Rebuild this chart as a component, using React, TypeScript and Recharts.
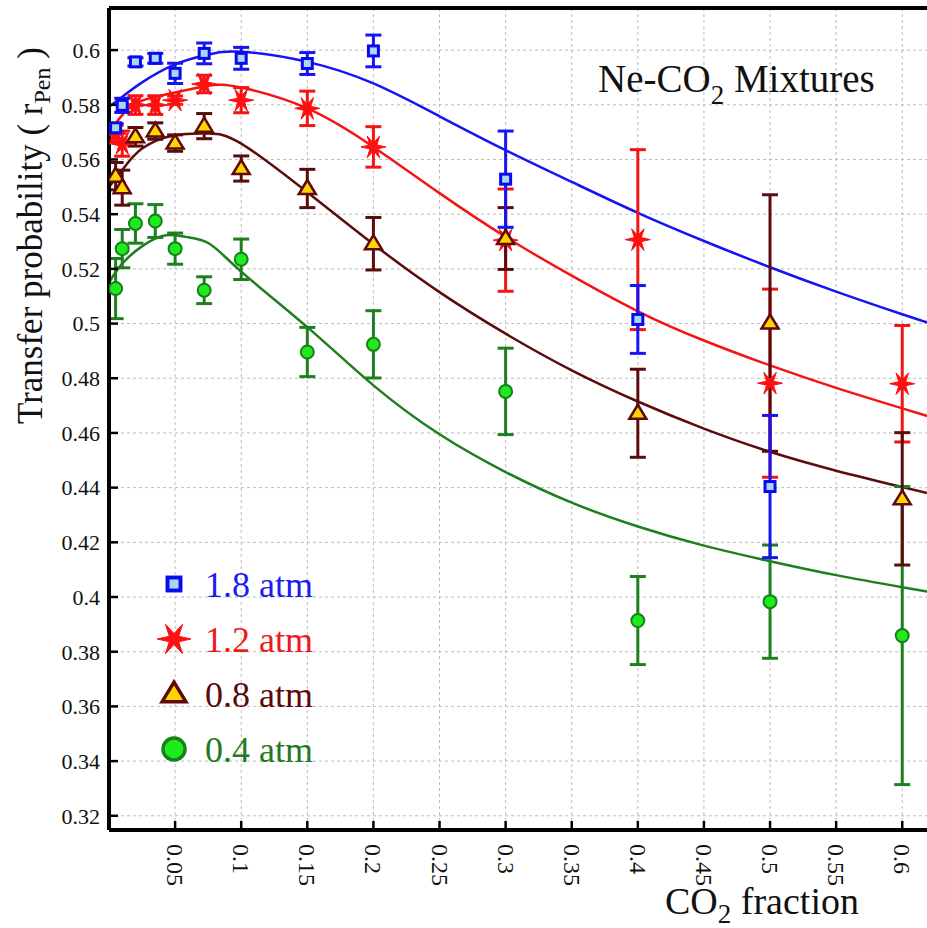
import React from 'react';
import { ComposedChart, Scatter, Line, XAxis, YAxis, CartesianGrid, ErrorBar } from 'recharts';

// ---------- data ----------
const xPoints = [0.005, 0.01, 0.02, 0.035, 0.05, 0.072, 0.1, 0.15, 0.2, 0.3, 0.4, 0.5, 0.6];

const y18 = [0.5716, 0.5798, 0.5957, 0.597, 0.5915, 0.5988, 0.597, 0.5951, 0.5997, 0.5528, 0.5015, 0.4404];
const e18 = [0.0015, 0.0026, 0.0015, 0.0018, 0.0037, 0.0038, 0.004, 0.004, 0.0058, 0.0176, 0.0124, 0.026];

const y12 = [0.5695, 0.5658, 0.5799, 0.5799, 0.5817, 0.5876, 0.5817, 0.5787, 0.5646, 0.5305, 0.5307, 0.4782, 0.478];
const e12 = [0.003, 0.0046, 0.0034, 0.0034, 0.0015, 0.0032, 0.0046, 0.0063, 0.0074, 0.0187, 0.0329, 0.0344, 0.0213];

const y08 = [0.5539, 0.5497, 0.5683, 0.5704, 0.566, 0.5722, 0.5567, 0.5494, 0.5292, 0.5311, 0.4672, 0.5002, 0.4359];
const e08 = [0.005, 0.0064, 0.0034, 0.003, 0.003, 0.0046, 0.0046, 0.007, 0.0096, 0.0113, 0.0161, 0.0469, 0.0242];

const y04 = [0.5128, 0.5274, 0.5366, 0.5375, 0.5274, 0.5122, 0.5235, 0.4896, 0.4924, 0.4752, 0.3914, 0.3983, 0.3859];
const e04 = [0.011, 0.007, 0.0072, 0.006, 0.0057, 0.0049, 0.0074, 0.009, 0.0123, 0.0158, 0.0161, 0.0207, 0.0545];

// fitted curves
const fit18X = [0, 0.01, 0.025, 0.05, 0.075, 0.1, 0.15, 0.2, 0.25, 0.3, 0.35, 0.4, 0.45, 0.5, 0.55, 0.6, 0.619];
const fit18Y = [0.5793, 0.5829, 0.5882, 0.5948, 0.5984, 0.5994, 0.5957, 0.5878, 0.5758, 0.5634, 0.5518, 0.5405, 0.5302, 0.5206, 0.5117, 0.5034, 0.5004];

const fit12X = [0, 0.01, 0.025, 0.05, 0.075, 0.1, 0.15, 0.2, 0.25, 0.3, 0.35, 0.4, 0.45, 0.5, 0.55, 0.6, 0.619];
const fit12Y = [0.5696, 0.5762, 0.5815, 0.5845, 0.587, 0.5863, 0.5787, 0.5646, 0.5477, 0.5317, 0.5175, 0.5045, 0.4938, 0.4847, 0.4765, 0.469, 0.4662];

const fit08X = [0, 0.01, 0.025, 0.05, 0.075, 0.1, 0.15, 0.2, 0.25, 0.3, 0.35, 0.4, 0.45, 0.5, 0.55, 0.6, 0.619];
const fit08Y = [0.55, 0.5561, 0.564, 0.5689, 0.5695, 0.5658, 0.548, 0.529, 0.5115, 0.4963, 0.4829, 0.4715, 0.4616, 0.4531, 0.4462, 0.4402, 0.438];

const fit04X = [0, 0.01, 0.026, 0.043, 0.058, 0.076, 0.1, 0.15, 0.2, 0.25, 0.3, 0.35, 0.4, 0.45, 0.5, 0.55, 0.6, 0.619];
const fit04Y = [0.515, 0.5219, 0.5286, 0.5323, 0.5317, 0.5292, 0.519, 0.4987, 0.4774, 0.4595, 0.4457, 0.4345, 0.4258, 0.4188, 0.4131, 0.408, 0.4036, 0.402];

const xTicks = [0.05, 0.1, 0.15, 0.2, 0.25, 0.3, 0.35, 0.4, 0.45, 0.5, 0.55, 0.6];
const yTicks = [0.32, 0.34, 0.36, 0.38, 0.4, 0.42, 0.44, 0.46, 0.48, 0.5, 0.52, 0.54, 0.56, 0.58, 0.6];

const seriesNames = ['1.8 atm', '1.2 atm', '0.8 atm', '0.4 atm'];

// ---------- styling ----------
const FONT = '"Liberation Serif", "Times New Roman", serif';
const lineColors = ['#1414f5', '#f51414', '#5c0c0c', '#1d7f1d'];
const textColors = ['#1c1cee', '#ee1820', '#5a0a0a', '#1f7a1f'];
const kinds = ['square', 'star', 'triangle', 'circle'];
const legendScale = [1.3, 1.36, 1.4, 1.7];

const Marker = ({ kind, cx, cy, s = 1 }: any) => {
  if (cx == null || cy == null) return null;
  if (kind === 'square') {
    return (
      <rect x={cx - 5 * s} y={cy - 5 * s} width={10 * s} height={10 * s}
        fill="#a9d8f4" stroke="#0a0aee" strokeWidth={3 * s} />
    );
  }
  if (kind === 'star') {
    const pts: string[] = [];
    for (let i = 0; i < 12; i++) {
      const a = (i * Math.PI) / 6;
      const r = i % 2 === 0 ? 12.5 * s : 4 * s;
      pts.push(`${cx + r * Math.cos(a)},${cy + r * Math.sin(a)}`);
    }
    return <polygon points={pts.join(' ')} fill="#ff1010" stroke="#ff1010" strokeWidth={1} />;
  }
  if (kind === 'triangle') {
    const p = `${cx},${cy - 8.5 * s} ${cx + 8.5 * s},${cy + 5.5 * s} ${cx - 8.5 * s},${cy + 5.5 * s}`;
    return <polygon points={p} fill="#ffd400" stroke="#5c0a0a" strokeWidth={2.5 * s} strokeLinejoin="miter" />;
  }
  return <circle cx={cx} cy={cy} r={6.5 * s} fill="#1eea1e" stroke="#16801a" strokeWidth={2 * s} />;
};

const shapeFor = (kind: string) => (props: any) => <Marker kind={kind} cx={props.cx} cy={props.cy} />;

const pts = (ys: number[], es: number[]) => ys.map((y, i) => ({ x: xPoints[i], y, err: es[i] }));
const curve = (xs: number[], ys: number[]) => xs.map((x, i) => ({ x, y: ys[i] }));

const scatterData = [pts(y18, e18), pts(y12, e12), pts(y08, e08), pts(y04, e04)];
const curveData = [curve(fit18X, fit18Y), curve(fit12X, fit12Y), curve(fit08X, fit08Y), curve(fit04X, fit04Y)];

const XTick = (props: any) => {
  const { x, y, payload } = props;
  return (
    <text x={x} y={y} transform={`rotate(90 ${x} ${y})`} textAnchor="start" dominantBaseline="central"
      fontFamily={FONT} fontSize={24} fill="#111">
      {String(payload.value)}
    </text>
  );
};

const X_DOMAIN = [0, 0.621];
const Y_DOMAIN = [0.3148, 0.6154];

// draw order bottom -> top
const order = [3, 1, 2, 0];

export default function App() {
  return (
    <div style={{ position: 'absolute', left: 0, top: 0, width: 927, height: 928, overflow: 'hidden', background: '#fff' }}>
      <ComposedChart width={940} height={928} margin={{ top: 7, right: 0, bottom: 0, left: 0 }}>
        <CartesianGrid stroke="#bdbdbd" strokeDasharray="3 3" strokeWidth={1} />
        <XAxis dataKey="x" type="number" domain={X_DOMAIN} ticks={xTicks} allowDataOverflow
          height={98} tickSize={-9} tickMargin={23} tick={<XTick />}
          axisLine={{ stroke: '#000', strokeWidth: 4 }} tickLine={{ stroke: '#000', strokeWidth: 2.5 }} />
        <XAxis xAxisId="top" orientation="top" dataKey="x" type="number" domain={X_DOMAIN} ticks={xTicks} allowDataOverflow
          height={1} tickSize={-9} tick={false}
          axisLine={{ stroke: '#000', strokeWidth: 4 }} tickLine={{ stroke: '#000', strokeWidth: 2.5 }} />
        <YAxis type="number" domain={Y_DOMAIN} ticks={yTicks} allowDataOverflow width={109}
          tickSize={-9} tickMargin={18}
          tick={{ fontFamily: FONT, fontSize: 22, fill: '#111' }}
          axisLine={{ stroke: '#000', strokeWidth: 4 }} tickLine={{ stroke: '#000', strokeWidth: 2.5 }} />
        <YAxis yAxisId="right" orientation="right" type="number" domain={Y_DOMAIN} ticks={yTicks} allowDataOverflow width={10}
          tickSize={-9} tick={false}
          axisLine={{ stroke: '#000', strokeWidth: 4 }} tickLine={{ stroke: '#000', strokeWidth: 2.5 }} />
        {order.map((i) => (
          <Line key={'fit' + i} data={curveData[i]} dataKey="y" type="natural" dot={false} activeDot={false}
            stroke={lineColors[i]} strokeWidth={2.5} isAnimationActive={false} legendType="none" />
        ))}
        {order.map((i) => (
          <Scatter key={'pts' + i} name={seriesNames[i]} data={scatterData[i]} dataKey="y"
            shape={shapeFor(kinds[i])} isAnimationActive={false}>
            <ErrorBar dataKey="err" direction="y" width={8} stroke={lineColors[i]} strokeWidth={3} />
          </Scatter>
        ))}
      </ComposedChart>
      <svg width={927} height={928} style={{ position: 'absolute', left: 0, top: 0, pointerEvents: 'none' }}>
        <g fontFamily={FONT} fill="#111">
          <text x={598} y={92} fontSize={39}>
            Ne-CO<tspan fontSize={27} dy={12}>2</tspan><tspan dy={-12}> Mixtures</tspan>
          </text>
          <text x={665} y={914} fontSize={38}>
            CO<tspan fontSize={27} dy={9}>2</tspan><tspan dy={-9}> fraction</tspan>
          </text>
          <text transform="translate(42, 424) rotate(-90)" x={0} y={0} fontSize={35}>
            Transfer probability ( r<tspan fontSize={24} dy={8}>Pen</tspan><tspan dy={-8}> )</tspan>
          </text>
        </g>
        {seriesNames.map((name, i) => {
          const cy = 584 + i * 55;
          return (
            <g key={name}>
              <Marker kind={kinds[i]} cx={174} cy={cy} s={legendScale[i]} />
              <text x={205} y={cy + 13} fontFamily={FONT} fontSize={36} fill={textColors[i]}>{name}</text>
            </g>
          );
        })}
      </svg>
    </div>
  );
}
